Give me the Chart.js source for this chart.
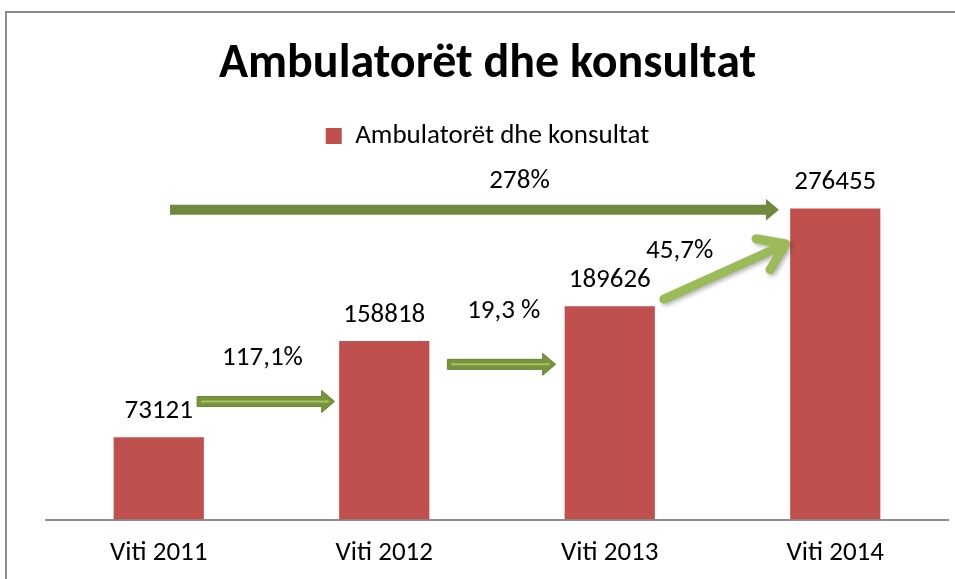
<!DOCTYPE html>
<html>
<head>
<meta charset="utf-8">
<script src="https://cdn.jsdelivr.net/npm/chart.js@4"></script>
<style>
  html, body { margin: 0; padding: 0; background: #fff; }
  #wrap { width: 955px; height: 579px; }
</style>
</head>
<body>
<div id="wrap"><canvas id="chart"></canvas></div>
<script>
const categories = ["Viti 2011", "Viti 2012", "Viti 2013", "Viti 2014"];
const seriesName = "Ambulatorët dhe konsultat";
const values = [73121, 158818, 189626, 276455];
const growthLabels = ["278%", "117,1%", "19,3 %", "45,7%"];

const FONT = "Carlito, Lato, sans-serif";

// arrows in data units: x = category index, y = value
const arrows = [
  { from: [0.05, 275500], to: [2.75, 275500], kind: "block", color: "#71893f", shine: false },
  { from: [0.17, 105000], to: [0.78, 105000], kind: "block", color: "#77933c", shine: true },
  { from: [1.28, 138000], to: [1.76, 138000], kind: "block", color: "#77933c", shine: true },
  { from: [2.24, 196000], to: [2.78, 245000], kind: "open", color: "#9bbb59" }
];
const growthPos = [[1.6, 301000], [0.46, 143300], [1.53, 185200], [2.31, 238600]];

function blockArrow(ctx, x1, y1, x2, y2, color, shine) {
  const ang = Math.atan2(y2 - y1, x2 - x1);
  const len = Math.hypot(x2 - x1, y2 - y1);
  const t = 5, hw = 11, hl = 13;
  ctx.save();
  ctx.translate(x1, y1);
  ctx.rotate(ang);
  ctx.beginPath();
  ctx.moveTo(0, -t);
  ctx.lineTo(len - hl, -t);
  ctx.lineTo(len - hl, -hw);
  ctx.lineTo(len, 0);
  ctx.lineTo(len - hl, hw);
  ctx.lineTo(len - hl, t);
  ctx.lineTo(0, t);
  ctx.closePath();
  ctx.fillStyle = color;
  ctx.fill();
  if (shine) {
    ctx.strokeStyle = "#6a8535";
    ctx.lineWidth = 1;
    ctx.stroke();
    ctx.beginPath();
    ctx.moveTo(4, 0);
    ctx.lineTo(len - 6, 0);
    ctx.strokeStyle = "#a6c36a";
    ctx.lineWidth = 2;
    ctx.stroke();
  }
  ctx.restore();
}

function openArrow(ctx, x1, y1, x2, y2, color) {
  const ang = Math.atan2(y2 - y1, x2 - x1);
  const head = 30, spread = 0.6;
  ctx.save();
  ctx.shadowColor = "rgba(0,0,0,0.3)";
  ctx.shadowBlur = 4;
  ctx.shadowOffsetX = 2;
  ctx.shadowOffsetY = 2;
  ctx.strokeStyle = color;
  ctx.lineWidth = 9;
  ctx.lineCap = "round";
  ctx.lineJoin = "round";
  ctx.beginPath();
  ctx.moveTo(x1, y1);
  ctx.lineTo(x2, y2);
  ctx.moveTo(x2 - head * Math.cos(ang - spread), y2 - head * Math.sin(ang - spread));
  ctx.lineTo(x2, y2);
  ctx.lineTo(x2 - head * Math.cos(ang + spread), y2 - head * Math.sin(ang + spread));
  ctx.stroke();
  ctx.restore();
}

const decorPlugin = {
  id: "decor",
  beforeDraw(chart) {
    const ctx = chart.ctx;
    ctx.save();
    ctx.strokeStyle = "#8c8c8c";
    ctx.lineWidth = 2;
    ctx.beginPath();
    ctx.moveTo(6, 590);
    ctx.lineTo(6, 12);
    ctx.lineTo(960, 12);
    ctx.stroke();
    ctx.restore();
  },
  afterDatasetsDraw(chart) {
    const ctx = chart.ctx;
    const xs = chart.scales.x, ys = chart.scales.y;
    const px = v => xs.getPixelForValue(v);
    const py = v => ys.getPixelForValue(v);

    // value labels above bars
    ctx.save();
    ctx.font = "27px " + FONT;
    ctx.fillStyle = "#000";
    ctx.textAlign = "center";
    ctx.textBaseline = "middle";
    chart.getDatasetMeta(0).data.forEach((bar, i) => {
      ctx.fillText(String(values[i]), bar.x, bar.y - 26);
    });
    ctx.restore();

    arrows.forEach(a => {
      const x1 = px(a.from[0]), y1 = py(a.from[1]);
      const x2 = px(a.to[0]), y2 = py(a.to[1]);
      if (a.kind === "block") blockArrow(ctx, x1, y1, x2, y2, a.color, a.shine);
      else openArrow(ctx, x1, y1, x2, y2, a.color);
    });

    ctx.save();
    ctx.font = "27px " + FONT;
    ctx.fillStyle = "#000";
    ctx.textAlign = "center";
    ctx.textBaseline = "middle";
    growthLabels.forEach((t, i) => {
      ctx.fillText(t, px(growthPos[i][0]), py(growthPos[i][1]));
    });
    ctx.restore();
  }
};

new Chart(document.getElementById("chart"), {
  type: "bar",
  data: {
    labels: categories,
    datasets: [{
      label: seriesName,
      data: values,
      backgroundColor: "#c0504d",
      barPercentage: 0.4,
      categoryPercentage: 1.0
    }]
  },
  options: {
    responsive: true,
    maintainAspectRatio: false,
    animation: false,
    layout: { padding: { left: 27, right: 7, top: 0, bottom: -7 } },
    plugins: {
      title: {
        display: true,
        text: "Ambulatorët dhe konsultat",
        color: "#000",
        font: { family: FONT, size: 48, weight: "bold" },
        padding: { top: 36, bottom: 19 }
      },
      legend: {
        display: true,
        labels: {
          color: "#000",
          font: { family: FONT, size: 27 },
          boxWidth: 16,
          boxHeight: 16,
          padding: 10
        }
      },
      tooltip: { enabled: false }
    },
    scales: {
      x: {
        grid: { display: false, drawTicks: false },
        border: { color: "#8c8c8c", width: 2 },
        ticks: { color: "#000", font: { family: FONT, size: 27 }, padding: 17, maxRotation: 0 }
      },
      y: {
        min: 0,
        max: 320000,
        grid: { display: false, drawTicks: false },
        border: { display: false },
        ticks: { display: false },
        afterFit(scale) { scale.width = 19; }
      }
    }
  },
  plugins: [decorPlugin]
});
</script>
</body>
</html>
